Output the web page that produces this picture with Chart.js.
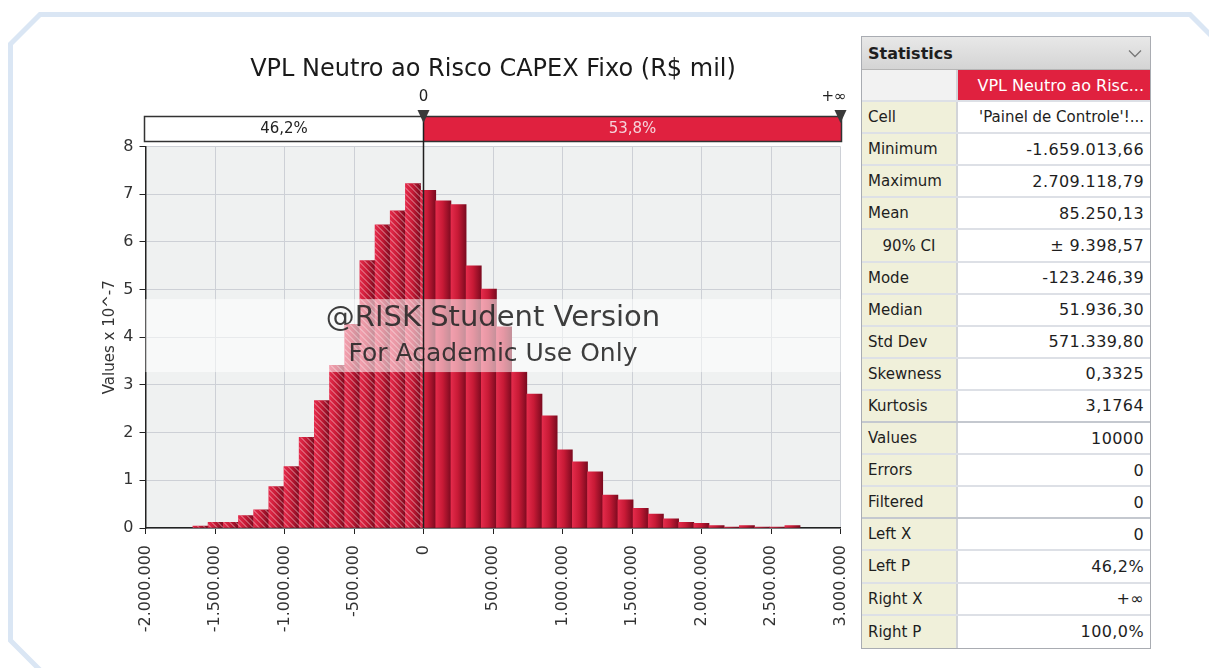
<!DOCTYPE html>
<html>
<head>
<meta charset="utf-8">
<script src="https://cdn.jsdelivr.net/npm/chart.js@4.4.1/dist/chart.umd.min.js"></script>
<style>
html, body { margin: 0; padding: 0; background: #fff; width: 1209px; height: 668px; overflow: hidden; font-family: 'DejaVu Sans', sans-serif; }
#frame { position: absolute; left: 0; top: 0; }
#histo { position: absolute; left: 0; top: 0; }
#stats { position: absolute; left: 861px; top: 36px; width: 288px; border: 1px solid #a9acb2; background: #fff; font-size: 15px; color: #1e1e1e; }
#statsHead { height: 33px; box-sizing: border-box; background: linear-gradient(#e8e8e8, #d4d4d4); border-bottom: 1px solid #b5b5b5; display: flex; align-items: center; justify-content: space-between; padding: 0 8px 0 6px; font-weight: bold; font-size: 16px; }
.row { display: flex; height: 32.1px; box-sizing: border-box; border-bottom: 2px solid #dde0e6; }
.row.group { border-bottom: 2px solid #c4c8cf; }
.row:last-child { border-bottom: none; }
.lab { width: 96px; box-sizing: border-box; background: #f0f0da; border-right: 2px solid #d2d4d8; padding-left: 6px; display: flex; align-items: center; white-space: nowrap; }
.lab.mid { justify-content: center; padding-left: 0; }
.val { flex: 1; display: flex; align-items: center; justify-content: flex-end; padding-right: 6px; white-space: nowrap; font-size: 16px; letter-spacing: 0.4px; }
.val.txt { font-size: 15px; letter-spacing: 0; }
.blank { background: #f2f2f2; }
.name { background: #e0213f; color: #fff; letter-spacing: 0; }
</style>
</head>
<body>
<svg id="frame" width="1209" height="668">
  <polygon points="40,14.5 1190,14.5 1226,50.5 1226,700 70,700 10.5,640.5 10.5,44" fill="none" stroke="#dae6f4" stroke-width="5"/>
</svg>
<canvas id="histo" width="860" height="668"></canvas>
<div id="stats">
  <div id="statsHead"><span>Statistics</span><svg width="14" height="9"><polyline points="1,1.5 7,7.5 13,1.5" fill="none" stroke="#777" stroke-width="1.3"/></svg></div>
  <div class="row"><div class="lab blank"></div><div class="val name" id="seriesName"></div></div>
</div>
<script>
// histogram heights (Values x 10^-7), one per bin, from min to max of the simulation
const densityValues = [
    0.04, 0.12, 0.12, 0.26, 0.38, 0.87, 1.29, 1.90, 2.67, 3.41,
    4.27, 5.61, 6.36, 6.65, 7.22, 7.08, 6.86, 6.78, 5.50, 5.01,
    4.22, 3.27, 2.81, 2.35, 1.64, 1.39, 1.18, 0.69, 0.59, 0.41,
    0.29, 0.19, 0.12, 0.10, 0.05, 0.02, 0.05, 0.02, 0.02, 0.05
];
const histMin = -1659013.66;
const histMax = 2709118.79;

const chartTitle = 'VPL Neutro ao Risco CAPEX Fixo (R$ mil)';
const yTitle = 'Values x 10^-7';
const delimiterLabels = ['0', '+∞'];
const delimiterShares = ['46,2%', '53,8%'];
const watermarkLines = ['@RISK Student Version', 'For Academic Use Only'];

const seriesName = 'VPL Neutro ao Risc...';
const statLabels = ['Cell', 'Minimum', 'Maximum', 'Mean', '90% CI', 'Mode', 'Median', 'Std Dev', 'Skewness',
    'Kurtosis', 'Values', 'Errors', 'Filtered', 'Left X', 'Left P', 'Right X', 'Right P'];
const statValues = ["'Painel de Controle'!...", '-1.659.013,66', '2.709.118,79', '85.250,13', '± 9.398,57',
    '-123.246,39', '51.936,30', '571.339,80', '0,3325', '3,1764', '10000', '0', '0', '0', '46,2%', '+∞', '100,0%'];
const groupEnds = ['Kurtosis', 'Filtered'];

const binWidth = (histMax - histMin) / densityValues.length;
const binPoints = densityValues.map((v, i) => ({x: histMin + binWidth * (i + 0.5), y: v}));

// stats table
document.getElementById('seriesName').textContent = seriesName;
const stats = document.getElementById('stats');
statLabels.forEach((label, i) => {
    const row = document.createElement('div');
    row.className = 'row' + (groupEnds.includes(label) ? ' group' : '');
    const lab = document.createElement('div');
    lab.className = 'lab' + (label === '90% CI' ? ' mid' : '');
    lab.textContent = label;
    const val = document.createElement('div');
    val.className = 'val' + (label === 'Cell' ? ' txt' : '');
    val.textContent = statValues[i];
    row.appendChild(lab);
    row.appendChild(val);
    stats.appendChild(row);
});

function fmtThousands(v) {
    const s = Math.abs(v).toFixed(0).replace(/\B(?=(\d{3})+(?!\d))/g, '.');
    return (v < 0 ? '-' : '') + s;
}

// each bar: bright on the left, dark on the right
function barFill(context) {
    const chart = context.chart;
    if (!chart.chartArea || context.type !== 'data') return '#b5142f';
    const xs = chart.scales.x;
    const c = context.raw.x;
    const l = xs.getPixelForValue(c - binWidth / 2);
    const r = xs.getPixelForValue(c + binWidth / 2);
    const g = chart.ctx.createLinearGradient(l, 0, r, 0);
    g.addColorStop(0, '#e42b4b');
    g.addColorStop(0.45, '#c81a36');
    g.addColorStop(1, '#7c0a1f');
    return g;
}

const plotBgPlugin = {
    id: 'plotBg',
    beforeDraw(chart) {
        const {ctx, chartArea: a} = chart;
        ctx.save();
        ctx.fillStyle = '#eff1f1';
        ctx.fillRect(a.left, a.top, a.width, a.height);
        ctx.restore();
    }
};

const hatchPlugin = {
    id: 'hatch',
    afterDatasetsDraw(chart) {
        const {ctx, chartArea: a, scales} = chart;
        const zeroX = scales.x.getPixelForValue(0);
        const meta = chart.getDatasetMeta(0);
        // hatch the part of the histogram left of the delimiter
        ctx.save();
        ctx.beginPath();
        meta.data.forEach(bar => {
            const left = bar.x - bar.width / 2;
            if (left >= zeroX) return;
            ctx.rect(left, bar.y, Math.min(bar.width, zeroX - left), bar.base - bar.y);
        });
        ctx.clip();
        ctx.strokeStyle = 'rgba(255,255,255,0.55)';
        ctx.lineWidth = 1;
        ctx.beginPath();
        for (let c = a.left - a.height; c < zeroX; c += 6) {
            ctx.moveTo(c, a.top);
            ctx.lineTo(c + a.height, a.bottom);
        }
        ctx.stroke();
        ctx.restore();

        // watermark
        const bandTop = scales.y.getPixelForValue(4.8);
        const bandBot = scales.y.getPixelForValue(3.27);
        const cx = (a.left + a.right) / 2;
        ctx.save();
        ctx.fillStyle = 'rgba(255,255,255,0.55)';
        ctx.fillRect(a.left, bandTop, a.width, bandBot - bandTop);
        ctx.textAlign = 'center';
        ctx.textBaseline = 'middle';
        ctx.fillStyle = 'rgba(40,40,40,0.9)';
        ctx.font = '29px "DejaVu Sans"';
        ctx.fillText(watermarkLines[0], cx, bandTop + 19);
        ctx.font = '25px "DejaVu Sans"';
        ctx.fillText(watermarkLines[1], cx, bandTop + 55);
        ctx.restore();
    }
};

const delimiterPlugin = {
    id: 'delimiter',
    afterDraw(chart) {
        const {ctx, chartArea: a, scales} = chart;
        const zeroX = scales.x.getPixelForValue(0);
        const top = 116.5, bot = 141.5;
        const left = a.left - 1, right = a.right + 1;
        ctx.save();
        ctx.fillStyle = '#ffffff';
        ctx.fillRect(left, top, zeroX - left, bot - top);
        ctx.fillStyle = '#e0213f';
        ctx.fillRect(zeroX, top, right - zeroX, bot - top);
        ctx.strokeStyle = '#333';
        ctx.lineWidth = 1.5;
        ctx.strokeRect(left, top, right - left, bot - top);

        ctx.strokeStyle = '#1e1e1e';
        ctx.beginPath();
        ctx.moveTo(zeroX, top);
        ctx.lineTo(zeroX, a.bottom);
        ctx.stroke();

        ctx.fillStyle = '#3a3a3a';
        [zeroX, a.right].forEach(px => {
            ctx.beginPath();
            ctx.moveTo(px - 6, 110);
            ctx.lineTo(px + 6, 110);
            ctx.lineTo(px, 123);
            ctx.closePath();
            ctx.fill();
        });

        ctx.font = '15px "DejaVu Sans"';
        ctx.textBaseline = 'middle';
        ctx.fillStyle = '#222';
        ctx.textAlign = 'center';
        ctx.fillText(delimiterLabels[0], zeroX, 97);
        ctx.textAlign = 'right';
        ctx.fillText(delimiterLabels[1], a.right + 6, 97);

        ctx.textAlign = 'center';
        ctx.fillStyle = '#222';
        ctx.fillText(delimiterShares[0], (left + zeroX) / 2, 129.5);
        ctx.fillStyle = '#f6d3da';
        ctx.fillText(delimiterShares[1], (zeroX + right) / 2, 129.5);
        ctx.restore();
    }
};

Chart.defaults.font.family = '"DejaVu Sans", sans-serif';

new Chart(document.getElementById('histo').getContext('2d'), {
    type: 'bar',
    data: {
        datasets: [{
            data: binPoints,
            backgroundColor: barFill,
            borderWidth: 0,
            barPercentage: 1,
            categoryPercentage: 1
        }]
    },
    options: {
        responsive: false,
        animation: false,
        layout: {padding: {left: 85, top: 46, right: 19.5, bottom: 20}},
        plugins: {
            legend: {display: false},
            tooltip: {enabled: false},
            title: {
                display: true,
                text: chartTitle,
                fullSize: false,
                color: '#1a1a1a',
                font: {size: 24, weight: 'normal'},
                padding: {top: 9, bottom: 62.7}
            }
        },
        scales: {
            x: {
                type: 'linear',
                min: -2000000,
                max: 3000000,
                offset: false,
                afterFit: s => { s.height = 120; s.paddingLeft = 0; s.paddingRight = 0; },
                grid: {offset: false, color: '#cdd0d6', tickColor: '#222', tickLength: 6},
                border: {color: '#222', width: 1.5},
                ticks: {
                    stepSize: 500000,
                    autoSkip: false,
                    maxRotation: 90,
                    minRotation: 90,
                    padding: 11,
                    color: '#333',
                    font: {size: 16},
                    callback: v => fmtThousands(v)
                }
            },
            y: {
                min: 0,
                max: 8,
                afterFit: s => { s.width = 60.5; },
                grid: {color: '#cdd0d6', tickColor: '#222', tickLength: 6},
                border: {color: '#222', width: 1.5},
                ticks: {stepSize: 1, padding: 6, color: '#333', font: {size: 16}},
                title: {display: true, text: yTitle, color: '#333', font: {size: 15}, padding: {top: 16, bottom: 0}}
            }
        }
    },
    plugins: [plotBgPlugin, hatchPlugin, delimiterPlugin]
});
</script>
</body>
</html>
